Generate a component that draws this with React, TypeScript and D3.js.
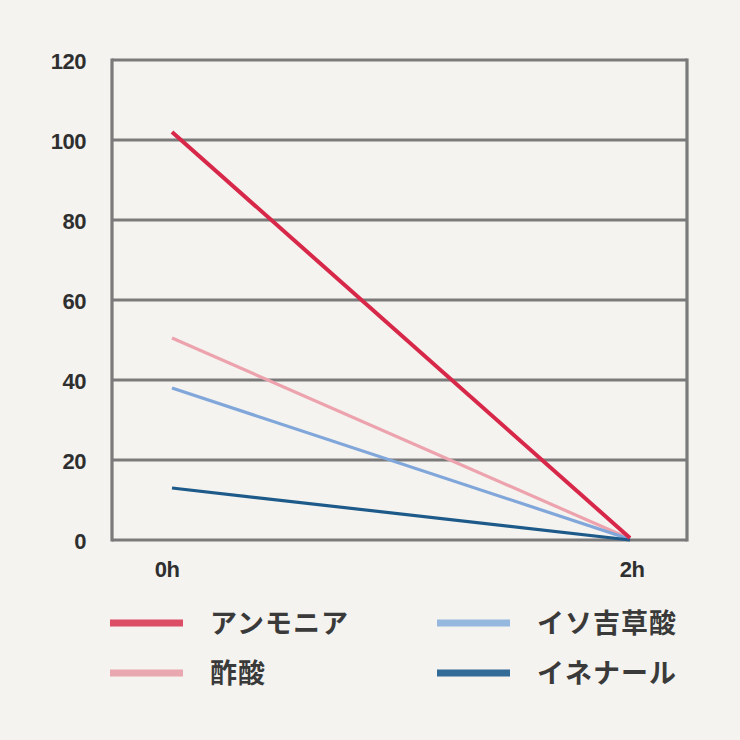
import React, { useEffect, useRef } from "react";
import * as d3 from "d3";

const timeLabels = ["0h", "2h"];
const yTicks = [0, 20, 40, 60, 80, 100, 120];
const seriesNames = ["アンモニア", "酢酸", "イソ吉草酸", "イネナール"];
const seriesColors = ["#d8284a", "#eda3ad", "#80a6da", "#1d5a8a"];
const legendColors = ["#dc4d66", "#e9a8b0", "#96b8de", "#326b98"];
const ammoniaValues = [102, 0.5];
const aceticValues = [50.5, 0.3];
const isovalericValues = [38, 0.2];
const nonenalValues = [13, 0];
const seriesValues = [ammoniaValues, aceticValues, isovalericValues, nonenalValues];

export default function App() {
  const ref = useRef<SVGSVGElement>(null);
  useEffect(() => {
    document.body.style.margin = "0";
    document.body.style.background = "#f4f3ef";
    const svg = d3.select(ref.current);
    svg.selectAll("*").remove();
    const W = 740, H = 740;
    const left = 112, right = 687, top = 60, bottom = 540;
    svg.append("rect").attr("width", W).attr("height", H).attr("fill", "#f4f3ef");

    const y = d3.scaleLinear().domain([0, 120]).range([bottom, top]);
    const x = d3.scalePoint<string>().domain(timeLabels).range([172, 630]);

    const grid = svg.append("g");
    yTicks.forEach((t) => {
      grid.append("line")
        .attr("x1", left).attr("x2", right)
        .attr("y1", y(t)).attr("y2", y(t))
        .attr("stroke", "#7a7a7a").attr("stroke-width", 3.2);
    });
    grid.append("line").attr("x1", left).attr("x2", left).attr("y1", top - 1.5).attr("y2", bottom + 1.5)
      .attr("stroke", "#7a7a7a").attr("stroke-width", 3.2);
    grid.append("line").attr("x1", right).attr("x2", right).attr("y1", top - 1.5).attr("y2", bottom + 1.5)
      .attr("stroke", "#7a7a7a").attr("stroke-width", 3.2);

    svg.append("g").selectAll("text").data(yTicks).join("text")
      .attr("x", 86).attr("y", (d) => y(d) + 1).attr("dy", "0.35em")
      .attr("text-anchor", "end")
      .attr("font-family", "Liberation Sans, Arial, sans-serif")
      .attr("font-size", 22).attr("font-weight", "bold").attr("fill", "#2f2f2f")
      .attr("letter-spacing", -0.5)
      .text((d) => String(d));

    const xOffsets = [-5, 2];
    svg.append("g").selectAll("text").data(timeLabels).join("text")
      .attr("x", (d, i) => (x(d) as number) + xOffsets[i]).attr("y", 577)
      .attr("text-anchor", "middle")
      .attr("font-family", "Liberation Sans, Arial, sans-serif")
      .attr("font-size", 22).attr("font-weight", "bold").attr("fill", "#2f2f2f")
      .attr("letter-spacing", -0.5)
      .text((d) => d);

    const line = d3.line<number>()
      .x((_, i) => x(timeLabels[i]) as number)
      .y((d) => y(d));
    const order = [1, 2, 3, 0];
    order.forEach((si) => {
      svg.append("path")
        .attr("d", line(seriesValues[si]))
        .attr("fill", "none")
        .attr("stroke", seriesColors[si])
        .attr("stroke-width", si === 0 ? 4 : 3.2);
    });

    const legendPos = [
      { lx: 110, ty: 626 },
      { lx: 110, ty: 676 },
      { lx: 437, ty: 626 },
      { lx: 437, ty: 676 },
    ];
    const lg = svg.append("g");
    seriesNames.forEach((name, i) => {
      const p = legendPos[i];
      lg.append("line").attr("x1", p.lx).attr("x2", p.lx + 73)
        .attr("y1", p.ty - 3).attr("y2", p.ty - 3)
        .attr("stroke", legendColors[i]).attr("stroke-width", 7);
      lg.append("text").attr("x", p.lx + 100).attr("y", p.ty - 3).attr("dy", "0.36em")
        .attr("font-family", "Noto Sans CJK JP, sans-serif")
        .attr("font-size", 27).attr("font-weight", "bold").attr("fill", "#3a3a3a")
        .attr("letter-spacing", 1)
        .text(name);
    });
  }, []);
  return <svg ref={ref} width={740} height={740} style={{ display: "block" }} />;
}
